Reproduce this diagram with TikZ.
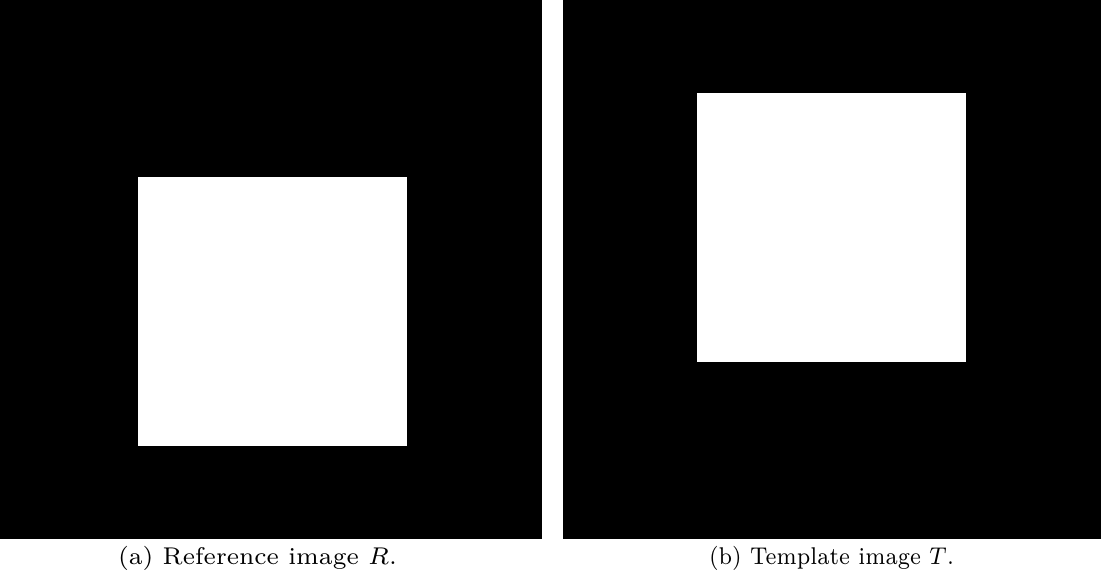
\documentclass[tikz,border=0pt]{standalone}
\usepackage{graphicx}
\tikzset{
  imgbox/.style={fill=black, draw=none},
  sqbox/.style={fill=white, draw=none},
  captext/.style={inner sep=0pt, anchor=base}
}
\newsavebox\capabox
\newsavebox\capbbox
\AtBeginDocument{%
\sbox\capabox{\fontsize{7}{8}\selectfont (a) Reference image $R$.}%
\sbox\capbbox{\fontsize{7}{8}\selectfont (b) Template image $T$.}%
}
\begin{document}
\begin{tikzpicture}[x=1pt,y=-1pt]
\pgfmathsetmacro\capscale{279/\wd\capabox}%
\pgfmathsetmacro\capbscale{245/\wd\capbbox}%
\useasboundingbox (0,0) rectangle (1101,577);
\fill[white] (0,0) rectangle (1101,577);
% left image
\path[imgbox] (0,0) rectangle (542,539);
\path[sqbox] (138,177) rectangle (407,446);
% right image
\path[imgbox] (563,0) rectangle (1101,539);
\path[sqbox] (697,93) rectangle (966,362);
% captions
\node[captext] (capa) at (257.5,564) {\scalebox{\capscale}{\usebox\capabox}};
\node[captext] (capb) at (831.5,564) {\scalebox{\capbscale}[\capscale]{\usebox\capbbox}};
\end{tikzpicture}
\end{document}
